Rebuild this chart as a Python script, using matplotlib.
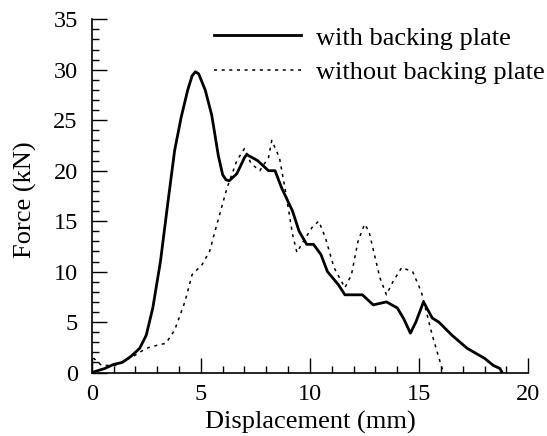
import numpy as np
import matplotlib
matplotlib.use('Agg')
import matplotlib.pyplot as plt
from matplotlib.ticker import MultipleLocator

FONTSIZE = 19

# with backing plate (solid)
x_with = [0.0, 0.3, 0.6, 1.0, 1.4, 1.8, 2.2, 2.5, 2.8, 3.15, 3.5, 3.8, 4.1, 4.4,
          4.6, 4.75, 4.9, 5.2, 5.5, 5.8, 6.0, 6.15, 6.3, 6.65, 7.0, 7.1, 7.6, 8.1,
          8.4, 8.7, 9.2, 9.5, 9.85, 10.16, 10.5, 10.8, 11.3, 11.6, 12.0, 12.4,
          12.9, 13.5, 14.0, 14.3, 14.6, 14.85, 15.2, 15.6, 15.9, 16.5, 17.2, 18.0,
          18.4, 18.7, 18.8]
y_with = [0.0, 0.2, 0.4, 0.8, 1.0, 1.6, 2.4, 3.7, 6.4, 11.0, 17.0, 22.0, 25.3, 28.0,
          29.4, 29.8, 29.6, 28.0, 25.5, 21.5, 19.6, 19.1, 19.0, 19.7, 21.3, 21.6,
          21.0, 20.0, 20.0, 18.3, 16.0, 14.0, 12.7, 12.7, 11.7, 10.0, 8.7, 7.7,
          7.7, 7.7, 6.7, 7.0, 6.4, 5.3, 3.9, 5.0, 7.0, 5.4, 5.0, 3.7, 2.4, 1.4,
          0.7, 0.4, 0.0]

# without backing plate (dotted)
x_without = [0.0, 0.1, 0.45, 1.1, 1.9, 2.5, 3.0, 3.4, 3.8, 4.27, 4.6, 5.06, 5.4,
             5.7, 6.2, 6.65, 7.0, 7.3, 7.7, 8.1, 8.25, 8.6, 8.9, 9.2, 9.4, 9.7,
             10.1, 10.4, 10.7, 11.1, 11.6, 11.9, 12.2, 12.5, 12.7, 13.2, 13.5,
             13.8, 14.2, 14.7, 15.1, 15.6, 16.05, 16.2]
y_without = [0.6, 1.4, 0.7, 0.7, 1.6, 2.4, 2.7, 2.9, 4.2, 7.0, 9.7, 10.7, 12.0,
             14.4, 18.3, 21.0, 22.2, 20.7, 20.0, 21.3, 23.0, 21.3, 17.7, 13.7, 11.9, 13.0,
             14.4, 15.0, 13.4, 10.4, 8.4, 9.7, 13.0, 14.7, 14.0, 9.4, 7.7,
             9.0, 10.4, 10.0, 8.0, 3.7, 0.4, 0.0]

plt.rcParams['font.family'] = ['Liberation Serif', 'DejaVu Serif']

fig = plt.figure(figsize=(5.47, 4.36), dpi=100)
ax = fig.add_axes([0.1676, 0.1456, 0.7982, 0.8101])

ax.plot(x_with, y_with, color='black', lw=2.0, label='with backing plate')
ax.plot(x_without, y_without, color='black', lw=1.1, linestyle=(0, (2, 3)),
        label='without backing plate')

ax.set_xlim(0, 20)
ax.set_ylim(0, 35)
ax.xaxis.set_major_locator(MultipleLocator(5))
ax.xaxis.set_minor_locator(MultipleLocator(1))
ax.yaxis.set_major_locator(MultipleLocator(5))
ax.yaxis.set_minor_locator(MultipleLocator(1))
ax.tick_params(which='both', direction='in', labelsize=17.5, width=1)
ax.tick_params(which='major', length=11)
ax.tick_params(which='minor', length=5)
ax.tick_params(axis='x', pad=8.5)
ax.tick_params(axis='y', pad=10)
for s in ['top', 'right']:
    ax.spines[s].set_visible(False)
for s in ['left', 'bottom']:
    ax.spines[s].set_linewidth(1.2)

ax.set_xlabel('Displacement (mm)', fontsize=FONTSIZE)
ax.set_ylabel('Force (kN)', fontsize=FONTSIZE)
ax.xaxis.set_label_coords(0.5, -0.11)
ax.yaxis.set_label_coords(-0.125, 0.49)

ax.legend(loc='upper left', bbox_to_anchor=(0.391, 0.94), bbox_transform=fig.transFigure,
          frameon=False, fontsize=FONTSIZE, handlelength=3.3, handletextpad=0.57,
          labelspacing=0.42, borderpad=0, borderaxespad=0)

fig.savefig('out.png', dpi=100)
